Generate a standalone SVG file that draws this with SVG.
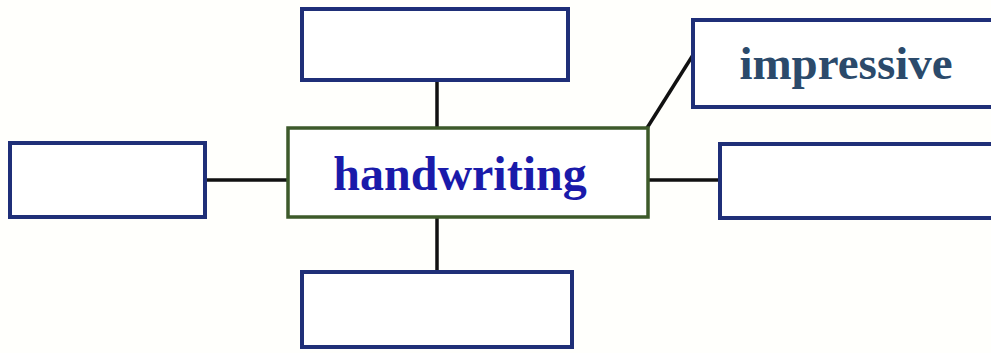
<svg xmlns="http://www.w3.org/2000/svg" width="991" height="353" viewBox="0 0 991 353">
<style>
.box{fill:#ffffff;stroke:#1f2f78;stroke-width:4}
.center{fill:#ffffff;stroke:#3d5a2a;stroke-width:3.5}
.conn{stroke:#111111;stroke-width:3.5;fill:none}
.lbl{font-family:"Liberation Serif",serif;font-weight:bold;text-anchor:middle}
</style>
<rect width="991" height="353" fill="#fffffc"/>
<g id="connectors">
<line class="conn" x1="437" y1="80" x2="437" y2="128"/>
<line class="conn" x1="437" y1="217" x2="437" y2="272"/>
<line class="conn" x1="205" y1="180" x2="288" y2="180"/>
<line class="conn" x1="648" y1="180" x2="720" y2="180"/>
<line class="conn" x1="647" y1="128" x2="693" y2="55"/>
</g>
<g id="top"><rect class="box" x="302" y="9" width="266" height="71"/></g>
<g id="bottom"><rect class="box" x="302" y="272" width="270" height="75"/></g>
<g id="left"><rect class="box" x="10" y="143" width="195" height="74"/></g>
<g id="right"><rect class="box" x="720" y="144" width="275" height="74"/></g>
<g id="impressive"><rect class="box" x="693" y="20" width="302" height="87"/>
<text class="lbl" x="846" y="79" font-size="47" fill="#2b4a6b">impressive</text></g>
<g id="handwriting"><rect class="center" x="288" y="128" width="360" height="89"/>
<text class="lbl" x="460" y="190" font-size="48" fill="#1a1aaa">handwriting</text></g>
</svg>
